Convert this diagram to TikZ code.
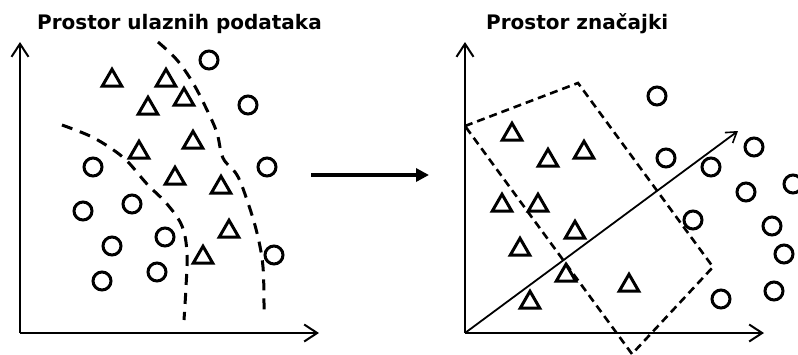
\documentclass[tikz,border=0pt]{standalone}
\usepackage{fontspec}
\setmainfont{DejaVu Sans}
\usetikzlibrary{arrows.meta,shapes.geometric}
\tikzset{
  tri/.style={draw, regular polygon, regular polygon sides=3, minimum size=22.5pt, inner sep=0pt, line width=3pt, yshift=-2.5pt},
  circ/.style={draw, circle, minimum size=18pt, inner sep=0pt, line width=3pt},
  axis/.style={line width=2.2pt, -{Straight Barb[length=13pt,width=17pt,line width=2pt]}},
  bound/.style={line width=3pt, dash pattern=on 11pt off 8pt, line cap=butt},
  quad/.style={line width=2.6pt, dash pattern=on 8pt off 5pt},
  ttl/.style={font=\fontsize{20}{22}\selectfont\bfseries, inner sep=0pt, anchor=base west},
}
\begin{document}
\begin{tikzpicture}[x=1pt,y=-1pt]
\clip (0,0) rectangle (798,354);
\fill[white] (0,0) rectangle (798,354);
% titles
\node[ttl] (t1) at (37,29) {Prostor ulaznih podataka};
\node[ttl] (t2) at (486,29) {Prostor značajki};
% left axes
\coordinate (o1) at (20,333);
\coordinate (y1) at (20,42);
\coordinate (x1) at (319,333);
\draw[axis] (o1) -- (y1);
\draw[axis] (o1) -- (x1);
% left boundaries
\draw[bound] plot[smooth, tension=0.6] coordinates {(62,125) (90,136) (112,149) (128,162) (147,184) (167,204) (182,226) (187,253) (186,287) (184,320)};
\draw[bound] plot[smooth, tension=0.6] coordinates {(158,42) (177,60) (193,83) (207,110) (217,133) (223,158) (237,175) (247,200) (257,233) (263,267) (264,312)};
% left triangles
\node[tri] (lt1) at (112,78) {};
\node[tri] (lt2) at (166,78) {};
\node[tri] (lt3) at (148,106) {};
\node[tri] (lt4) at (184,97) {};
\node[tri] (lt5) at (193,140) {};
\node[tri] (lt6) at (139,150) {};
\node[tri] (lt7) at (175,176) {};
\node[tri] (lt8) at (221,185) {};
\node[tri] (lt9) at (229,229) {};
\node[tri] (lt10) at (203,255) {};
% left circles
\node[circ] (lc1) at (209,60) {};
\node[circ] (lc2) at (248,105) {};
\node[circ] (lc3) at (267,167) {};
\node[circ] (lc4) at (93,167) {};
\node[circ] (lc5) at (83,211) {};
\node[circ] (lc6) at (132,204) {};
\node[circ] (lc7) at (165,237) {};
\node[circ] (lc8) at (112,246) {};
\node[circ] (lc9) at (274,255) {};
\node[circ] (lc10) at (102,281) {};
\node[circ] (lc11) at (157,272) {};
% middle arrow
\coordinate (ma) at (311,175);
\coordinate (mb) at (429,175);
\draw[line width=4pt, -{Triangle[length=13pt,width=13pt]}] (ma) -- (mb);
% right axes
\coordinate (o2) at (465,333);
\coordinate (y2) at (465,42);
\coordinate (x2) at (764,333);
\draw[axis] (o2) -- (y2);
\draw[axis] (o2) -- (x2);
% dashed region
\coordinate (q1) at (465,126);
\coordinate (q2) at (578,83);
\coordinate (q3) at (713,267);
\coordinate (q4) at (632,354);
\draw[quad] (q1) -- (q2) -- (q3) -- (q4) -- cycle;
% projection axis
\coordinate (pe) at (738,131);
\draw[line width=1.8pt, -{Straight Barb[length=10pt,width=13pt,line width=1.6pt]}] (o2) -- (pe);
% right triangles
\node[tri] (rt1) at (512,132) {};
\node[tri] (rt2) at (548,158) {};
\node[tri] (rt3) at (584,150) {};
\node[tri] (rt4) at (502,203) {};
\node[tri] (rt5) at (538,203) {};
\node[tri] (rt6) at (575,230) {};
\node[tri] (rt7) at (520,247) {};
\node[tri] (rt8) at (566,273) {};
\node[tri] (rt9) at (629,283) {};
\node[tri] (rt10) at (530,300) {};
% right circles
\node[circ] (rc1) at (657,96) {};
\node[circ] (rc2) at (666,158) {};
\node[circ] (rc3) at (711,167) {};
\node[circ] (rc4) at (754,147) {};
\node[circ] (rc5) at (746,192) {};
\node[circ] (rc6) at (793,184) {};
\node[circ] (rc7) at (693,220) {};
\node[circ] (rc8) at (772,226) {};
\node[circ] (rc9) at (784,254) {};
\node[circ] (rc10) at (774,291) {};
\node[circ] (rc11) at (721,299) {};
\end{tikzpicture}
\end{document}
